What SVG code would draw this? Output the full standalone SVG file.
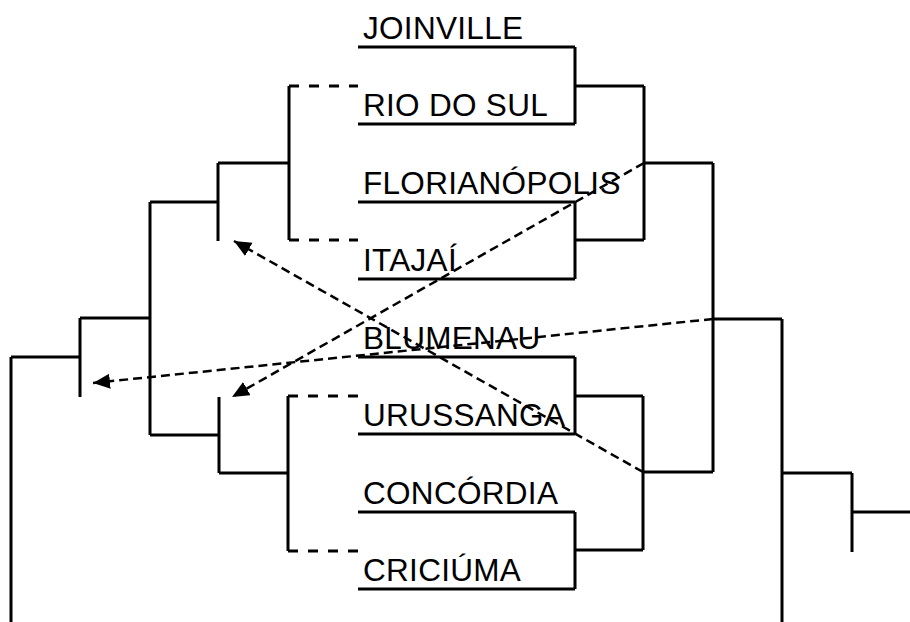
<svg xmlns="http://www.w3.org/2000/svg" width="910" height="622" viewBox="0 0 910 622">
<style>
.ln{fill:none;stroke:#000;stroke-width:3;stroke-linejoin:miter;stroke-linecap:butt}
.ds{fill:none;stroke:#000;stroke-width:3;stroke-dasharray:10,10}
.ar{fill:none;stroke:#000;stroke-width:2.5;stroke-dasharray:9,5}
.lb{font-family:"Liberation Sans",Arial,sans-serif;font-size:31.5px;letter-spacing:0.3px;fill:#000}
</style>
<defs>
<marker id="ah" markerUnits="userSpaceOnUse" markerWidth="18" markerHeight="16" refX="17" refY="7.5" orient="auto">
<path d="M0,0 L17,7.5 L0,15 z" fill="#000"/>
</marker>
</defs>
<rect width="910" height="622" fill="#fff"/>
<g id="leaf-joinville"><text class="lb" x="363" y="39">JOINVILLE</text><path class="ln" d="M358,47H575"/></g>
<g id="leaf-riodosul"><text class="lb" x="363" y="116">RIO DO SUL</text><path class="ln" d="M358,124H575"/></g>
<g id="leaf-florianopolis"><text class="lb" x="363" y="194">FLORIANÓPOLIS</text><path class="ln" d="M358,202H575"/></g>
<g id="leaf-itajai"><text class="lb" x="363" y="271">ITAJAÍ</text><path class="ln" d="M358,279H575"/></g>
<g id="leaf-blumenau"><text class="lb" x="363" y="349">BLUMENAU</text><path class="ln" d="M358,357H575"/></g>
<g id="leaf-urussanga"><text class="lb" x="363" y="426">URUSSANGA</text><path class="ln" d="M358,434H575"/></g>
<g id="leaf-concordia"><text class="lb" x="363" y="504">CONCÓRDIA</text><path class="ln" d="M358,512H575"/></g>
<g id="leaf-criciuma"><text class="lb" x="363" y="581">CRICIÚMA</text><path class="ln" d="M358,589H575"/></g>

<g id="right-tree">
<path class="ln" d="M575,47V124M575,86H644"/>
<path class="ln" d="M575,202V279M575,240H644"/>
<path class="ln" d="M644,86V240M644,163H713"/>
<path class="ln" d="M575,357V434M575,396H643"/>
<path class="ln" d="M575,512V589M575,550H643"/>
<path class="ln" d="M643,396V550M643,472H713"/>
<path class="ln" d="M713,163V472M713,319H782"/>
<path class="ln" d="M782,319V622M782,473H852"/>
<path class="ln" d="M852,473V552M852,512H910"/>
</g>

<g id="left-tree">
<path class="ds" d="M289,86H358M289,240H358"/>
<path class="ln" d="M289,86V240M289,163H218"/>
<path class="ln" d="M218,163V241M218,202H150"/>
<path class="ds" d="M288,396H358M288,551H358"/>
<path class="ln" d="M288,396V551M288,473H219"/>
<path class="ln" d="M219,397V473M219,435H150"/>
<path class="ln" d="M150,202V435M150,318H80"/>
<path class="ln" d="M80,318V397M80,357H11"/>
<path class="ln" d="M11,357V622"/>
</g>

<g id="connectors">
<path class="ar" d="M713,319L93,383" marker-end="url(#ah)"/>
<path class="ar" d="M644,163L232,397" marker-end="url(#ah)"/>
<path class="ar" d="M643,472L234,241" marker-end="url(#ah)"/>
</g>
</svg>
